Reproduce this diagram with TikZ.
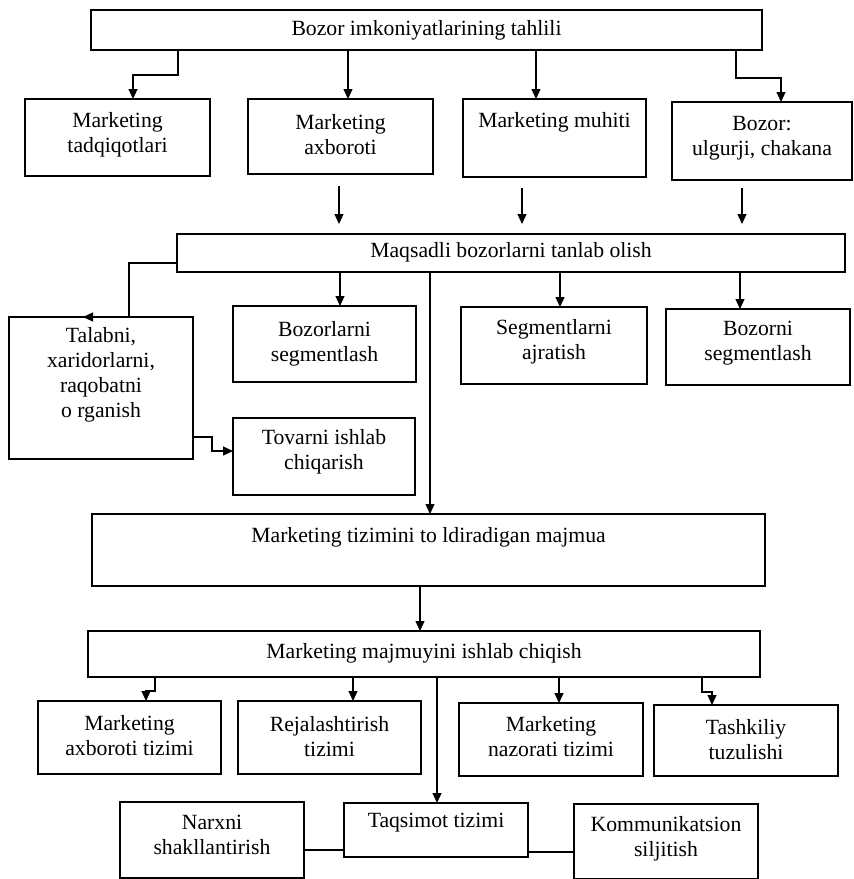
\documentclass[tikz,border=0pt]{standalone}
\usepackage{fontspec}
\setmainfont{Liberation Serif}
\usetikzlibrary{arrows.meta}

\tikzset{
  box/.style={draw, line width=1.9pt, inner sep=0pt, outer sep=0pt},
  txt/.style={inner sep=0pt, align=center, font=\fontsize{21.7}{25}\selectfont},
  arr/.style={line width=1.2pt, -{Triangle[length=10pt,width=9pt]}},
  link/.style={line width=1.3pt},
}

\begin{document}
\begin{tikzpicture}[x=1pt,y=-1pt]
\useasboundingbox (0,0) rectangle (854,879);

% ---- level 1
\node[box, minimum width=671pt, minimum height=40pt] (top) at (426.5,30) {};
\node[txt] (topt) at (426.5,30) {Bozor imkoniyatlarining tahlili};

% ---- level 2
\node[box, minimum width=185pt, minimum height=77pt] (b1) at (117.5,137.5) {};
\node[txt] (b1t) at (117.5,134.5) {Marketing\\tadqiqotlari};
\node[box, minimum width=185pt, minimum height=75pt] (b2) at (340.5,136.5) {};
\node[txt] (b2t) at (340.5,135) {Marketing\\axboroti};
\node[box, minimum width=183pt, minimum height=78pt] (b3) at (554.5,138) {};
\node[txt] (b3t) at (554.5,122) {Marketing muhiti};
\node[box, minimum width=180pt, minimum height=78pt] (b4) at (762,141) {};
\node[txt] (b4t) at (762,138.5) {Bozor:\\ulgurji, chakana};

% ---- level 3
\node[box, minimum width=668pt, minimum height=38pt] (maq) at (511,253) {};
\node[txt] (maqt) at (511,252) {Maqsadli bozorlarni tanlab olish};

\node[box, minimum width=184pt, minimum height=142pt] (talab) at (101,388) {};
\node[txt] (talabt) at (101,375) {Talabni,\\xaridorlarni,\\raqobatni\\o rganish};
\node[box, minimum width=183pt, minimum height=76pt] (bzl) at (324.5,344) {};
\node[txt] (bzlt) at (324.5,344) {Bozorlarni\\segmentlash};
\node[box, minimum width=186pt, minimum height=77pt] (seg) at (554,345.5) {};
\node[txt] (segt) at (554,342) {Segmentlarni\\ajratish};
\node[box, minimum width=184pt, minimum height=76pt] (bzn) at (758,347) {};
\node[txt] (bznt) at (758,343.5) {Bozorni\\segmentlash};
\node[box, minimum width=182pt, minimum height=77pt] (tov) at (324,456.5) {};
\node[txt] (tovt) at (324,452) {Tovarni ishlab\\chiqarish};

% ---- level 4
\node[box, minimum width=673pt, minimum height=72pt] (tiz) at (428.5,550) {};
\node[txt] (tizt) at (428.5,537) {Marketing tizimini to ldiradigan majmua};

\node[box, minimum width=672pt, minimum height=46pt] (maj) at (424,654) {};
\node[txt] (majt) at (424,653) {Marketing majmuyini ishlab chiqish};

% ---- level 5
\node[box, minimum width=183pt, minimum height=73pt] (mab) at (129.5,737.5) {};
\node[txt] (mabt) at (129.5,736) {Marketing\\axboroti tizimi};
\node[box, minimum width=183pt, minimum height=73pt] (rej) at (329.5,737.5) {};
\node[txt] (rejt) at (329.5,736.5) {Rejalashtirish\\tizimi};
\node[box, minimum width=184pt, minimum height=73pt] (naz) at (551,739.5) {};
\node[txt] (nazt) at (551,737) {Marketing\\nazorati tizimi};
\node[box, minimum width=184pt, minimum height=71pt] (tash) at (746,740.5) {};
\node[txt] (tasht) at (746,739.5) {Tashkiliy\\tuzulishi};

% ---- level 6
\node[box, minimum width=184pt, minimum height=76pt] (narx) at (212,840) {};
\node[txt] (narxt) at (212,835) {Narxni\\shakllantirish};
\node[box, minimum width=184pt, minimum height=54pt] (taq) at (436,830) {};
\node[txt] (taqt) at (436,823) {Taqsimot tizimi};
\node[box, minimum width=184pt, minimum height=75pt] (kom) at (666,841.5) {};
\node[txt] (komt) at (666,838.5) {Kommunikatsion\\siljitish};

% ---- connectors: level 1 -> level 2
\draw[arr] (top.south -| 178,0) |- (133,75) -- (b1.north -| 133,0);
\draw[arr] (top.south -| 348,0) -- (b2.north -| 348,0);
\draw[arr] (top.south -| 536,0) -- (b3.north -| 536,0);
\draw[arr] (top.south -| 736,0) |- (781,78) -- (b4.north -| 781,0);

% ---- level 2 -> level 3 (detached arrows)
\draw[arr, shorten <=12pt, shorten >=10pt] (b2.south -| 339,0) -- (maq.north -| 339,0);
\draw[arr, shorten <=11pt, shorten >=10pt] (b3.south -| 522,0) -- (maq.north -| 522,0);
\draw[arr, shorten <=8pt, shorten >=10pt] (b4.south -| 742,0) -- (maq.north -| 742,0);

% ---- level 3 branches
\draw[arr] (maq.west |- 0,263) -| (talab.north -| 129,0) -- (talab.north -| 83,0);
\draw[arr] (maq.south -| 340,0) -- (bzl.north -| 340,0);
\draw[arr] (maq.south -| 560,0) -- (seg.north -| 560,0);
\draw[arr] (maq.south -| 740,0) -- (bzn.north -| 740,0);
\draw[arr] (maq.south -| 430,0) -- (tiz.north -| 430,0);
\draw[arr] (talab.east |- 0,437) -| (212,451) -- (tov.west |- 0,451);

% ---- level 4 -> level 5
\draw[arr] (tiz.south -| 420,0) -- (maj.north -| 420,0);
\draw[arr] (maj.south -| 155,0) |- (146,691) -- (mab.north -| 146,0);
\draw[arr] (maj.south -| 353,0) -- (rej.north -| 353,0);
\draw[arr] (maj.south -| 437,0) -- (taq.north -| 437,0);
\draw[arr] (maj.south -| 559,0) -- (naz.north -| 559,0);
\draw[arr] (maj.south -| 702,0) |- (712,692) -- (tash.north -| 712,0);

% ---- bottom row links
\draw[link] (narx.east |- 0,850) -- (taq.west |- 0,850);
\draw[link] (taq.east |- 0,852) -- (kom.west |- 0,852);
\end{tikzpicture}
\end{document}
